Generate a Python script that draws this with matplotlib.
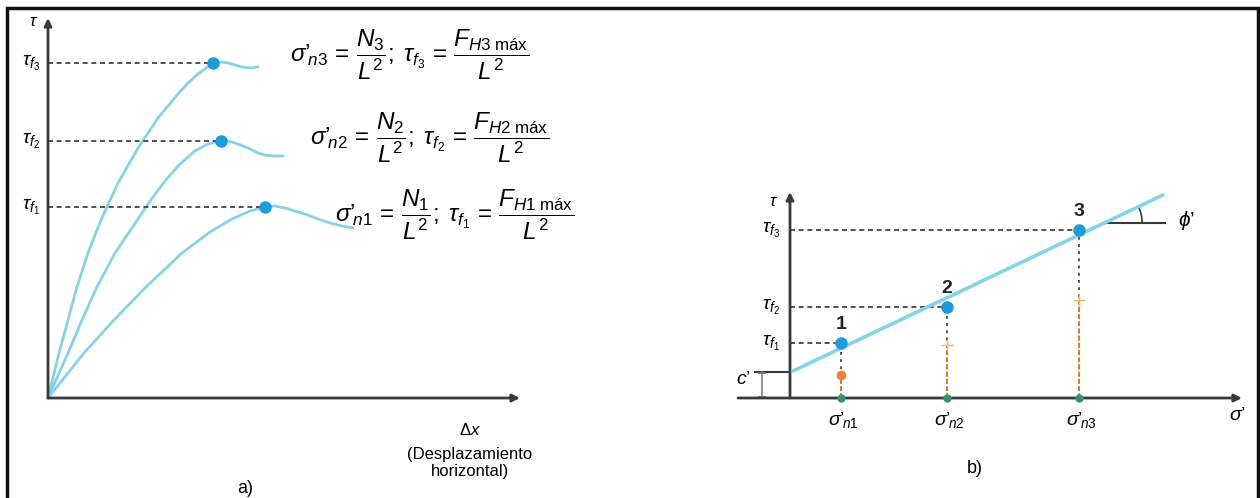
import numpy as np
import matplotlib
matplotlib.use("Agg")
from matplotlib import pyplot as plt
from matplotlib.patches import Arc, Rectangle

plt.rcParams['font.family'] = ['Liberation Sans', 'DejaVu Sans']
plt.rcParams['mathtext.fontset'] = 'custom'
plt.rcParams['mathtext.rm'] = 'Liberation Sans'
plt.rcParams['mathtext.it'] = 'Liberation Sans:italic'
plt.rcParams['mathtext.bf'] = 'Liberation Sans:bold'

# a) curvas tau - desplazamiento horizontal (unidades arbitrarias)
dx_1 = [0, 3.6, 6.6, 9.8, 13.4, 16.2, 18.4, 20.2, 21.7, 22.7, 23.7, 24.7, 25.7, 27.0, 28.2, 29.4, 30.5]
tau_1 = [0, 4.5, 7.8, 11.1, 14.5, 16.6, 17.9, 18.7, 19.1, 19.2, 19.0, 18.7, 18.4, 17.9, 17.5, 17.2, 17.0]
dx_2 = [0, 2.0, 3.4, 4.9, 6.7, 8.8, 10.2, 11.7, 13.2, 14.7, 16.0, 17.3, 18.0, 18.7, 19.5, 20.2, 21.0, 21.7, 22.5, 23.5]
tau_2 = [0, 4.5, 7.8, 11.1, 14.5, 17.6, 19.7, 21.7, 23.4, 24.7, 25.4, 25.7, 25.7, 25.5, 25.2, 24.9, 24.5, 24.3, 24.2, 24.2]
dx_3 = [0, 1.1, 2.0, 2.9, 4.0, 5.3, 7.0, 9.0, 11.0, 13.0, 14.0, 15.0, 15.8, 16.5, 17.3, 18.0, 18.7, 19.4, 20.2, 21.0]
tau_3 = [0, 4.5, 7.8, 11.1, 14.5, 17.8, 21.5, 25.0, 28.0, 30.4, 31.5, 32.4, 33.0, 33.5, 33.6, 33.5, 33.3, 33.1, 33.0, 33.1]
peak_dx = [21.7, 17.3, 16.5]
peak_tau = [19.1, 25.7, 33.5]
tau_labels = [r'$\tau_{f_1}$', r'$\tau_{f_2}$', r'$\tau_{f_3}$']
formulas = [
    r"$\sigma’_{\!n1} \,=\, \dfrac{N_1}{L^2};\; \tau_{f_1} \,=\, \dfrac{F_{H1\;\mathrm{máx}}}{L^2}$",
    r"$\sigma’_{\!n2} \,=\, \dfrac{N_2}{L^2};\; \tau_{f_2} \,=\, \dfrac{F_{H2\;\mathrm{máx}}}{L^2}$",
    r"$\sigma’_{\!n3} \,=\, \dfrac{N_3}{L^2};\; \tau_{f_3} \,=\, \dfrac{F_{H3\;\mathrm{máx}}}{L^2}$",
]

# b) envolvente de falla
sigma_n = [5.1, 15.7, 28.9]
tau_f = [5.5, 9.1, 16.8]
orange_h = [2.3, 5.3, 9.8]
c_eff = 2.6
env_sigma = [0.3, 37.3]
env_tau = [2.7, 20.3]
point_labels = ['1', '2', '3']
sigma_labels = [r"$\sigma’_{\!n1}$", r"$\sigma’_{\!n2}$", r"$\sigma’_{\!n3}$"]

W, H = 1260, 498
fig = plt.figure(figsize=(12.6, 4.98), dpi=100)

curve_c = '#86d3e8'
dot_c = '#1e9cd8'
axis_c = '#3a3a3a'
dash_c = '#333333'

def px_axes(left, right, bottom, top):
    return fig.add_axes([left / W, (H - bottom) / H, (right - left) / W, (bottom - top) / H])

def arrow(ax, x0, y0, x1, y1):
    ax.annotate('', xy=(x1, y1), xytext=(x0, y0),
                arrowprops=dict(arrowstyle='-|>', lw=2, color=axis_c,
                                mutation_scale=11, shrinkA=0, shrinkB=0))

# ---------------- a)
ax1 = px_axes(48, 530, 398, 15)
ax1.set_xlim(0, 48.2)
ax1.set_ylim(0, 38.3)
ax1.axis('off')
arrow(ax1, 0, 0, 47.2, 0)
arrow(ax1, 0, 0, 0, 38.0)
for xs, ys in [(dx_1, tau_1), (dx_2, tau_2), (dx_3, tau_3)]:
    ax1.plot(xs, ys, color=curve_c, lw=2, solid_capstyle='round', solid_joinstyle='round',
             clip_on=False)
for i in range(3):
    ax1.plot([0, peak_dx[i]], [peak_tau[i], peak_tau[i]], color=dash_c, lw=1.2,
             dashes=(3, 2.2), clip_on=False)
    ax1.plot(peak_dx[i], peak_tau[i], 'o', color=dot_c, ms=8, clip_on=False, zorder=5)
    ax1.text(-0.8, peak_tau[i], tau_labels[i], ha='right', va='center', fontsize=14)
ax1.text(-1.0, 37.6, r'$\tau$', ha='right', va='center', fontsize=12)
form_x = [28.7, 26.2, 24.2]
form_y = [18.3, 26.0, 34.3]
for i in range(3):
    ax1.text(form_x[i], form_y[i], formulas[i], ha='left', va='center', fontsize=17.5)
ax1.text(42.2, -3.2, r'$\Delta x$', ha='center', va='center', fontsize=12)
ax1.text(42.2, -6.5, '(Desplazamiento\nhorizontal)', ha='center', va='center',
         fontsize=12, linespacing=1.15)
ax1.text(19.7, -9.0, 'a)', ha='center', va='center', fontsize=13)

# ---------------- b)
ax2 = px_axes(730, 1250, 398, 15)
ax2.set_xlim(-6, 46)
ax2.set_ylim(0, 38.3)
ax2.axis('off')
arrow(ax2, -5.2, 0, 45.2, 0)
arrow(ax2, 0, 0, 0, 20.6)
ax2.plot(env_sigma, env_tau, color=curve_c, lw=2.6, solid_capstyle='round', zorder=3)
for i in range(3):
    ax2.plot([0, sigma_n[i]], [tau_f[i], tau_f[i]], color=dash_c, lw=1.2, dashes=(3, 2.2))
    ax2.plot([sigma_n[i], sigma_n[i]], [0, tau_f[i]], color='#555555', lw=1.4, dashes=(1.5, 2.2))
    ax2.plot([sigma_n[i], sigma_n[i]], [0, orange_h[i]], color='#e0782c', lw=1.4,
             dashes=(2.5, 1.2), zorder=4)
    ax2.plot(sigma_n[i], orange_h[i], 'o' if i == 0 else '+', color='#e8843a' if i == 0 else '#f2b36b',
             ms=6 if i == 0 else 8, zorder=5)
    ax2.plot(sigma_n[i], 0, 'o', color='#3e8f78', ms=5, zorder=5, clip_on=False)
    ax2.plot(sigma_n[i], tau_f[i], 'o', color=dot_c, ms=8, zorder=6)
    ax2.text(sigma_n[i], tau_f[i] + 1.0, point_labels[i], ha='center', va='bottom',
             fontsize=14, fontweight='bold', color='#222222')
    ax2.text(-1.0, tau_f[i], tau_labels[i], ha='right', va='center', fontsize=14)
    ax2.text(sigma_n[i] + 0.2, -2.2, sigma_labels[i], ha='center', va='center', fontsize=14)
ax2.text(-1.2, 19.7, r'$\tau$', ha='right', va='center', fontsize=12)
ax2.text(-3.9, 1.9, r"$c’$", ha='right', va='center', fontsize=14)
ax2.text(44.7, -1.7, r"$\sigma’$", ha='center', va='center', fontsize=14)
ax2.text(18.5, -7.0, 'b)', ha='center', va='center', fontsize=13)
# cohesion
ax2.plot([-3.5, 0], [c_eff, c_eff], color=axis_c, lw=1.5)
ax2.plot([-2.8, -2.8], [0, c_eff], color='#888888', lw=1.3)
ax2.plot([-2.8, -2.8], [0.1, c_eff - 0.1], '_', color='#777777', ms=6, mew=1.3)
# angle phi'
slope = (env_tau[1] - env_tau[0]) / (env_sigma[1] - env_sigma[0])
y_phi = 17.5
x_int = env_sigma[0] + (y_phi - env_tau[0]) / slope
ax2.plot([x_int, 37.5], [y_phi, y_phi], color=axis_c, lw=1.5)
ang = np.degrees(np.arctan(slope))
ax2.add_patch(Arc((x_int, y_phi), 7.6, 7.6, theta1=0, theta2=ang, color=axis_c, lw=1.2))
ax2.text(38.8, 17.8, r"$\phi’$", ha='left', va='center', fontsize=15)

# marco
fig.add_artist(Rectangle((7 / W, -0.05), (1258 - 7) / W, 1.05 - 8 / H,
                         transform=fig.transFigure, fill=False, lw=2.5, ec='#111111'))

fig.savefig('out.png', dpi=100, facecolor='white')
